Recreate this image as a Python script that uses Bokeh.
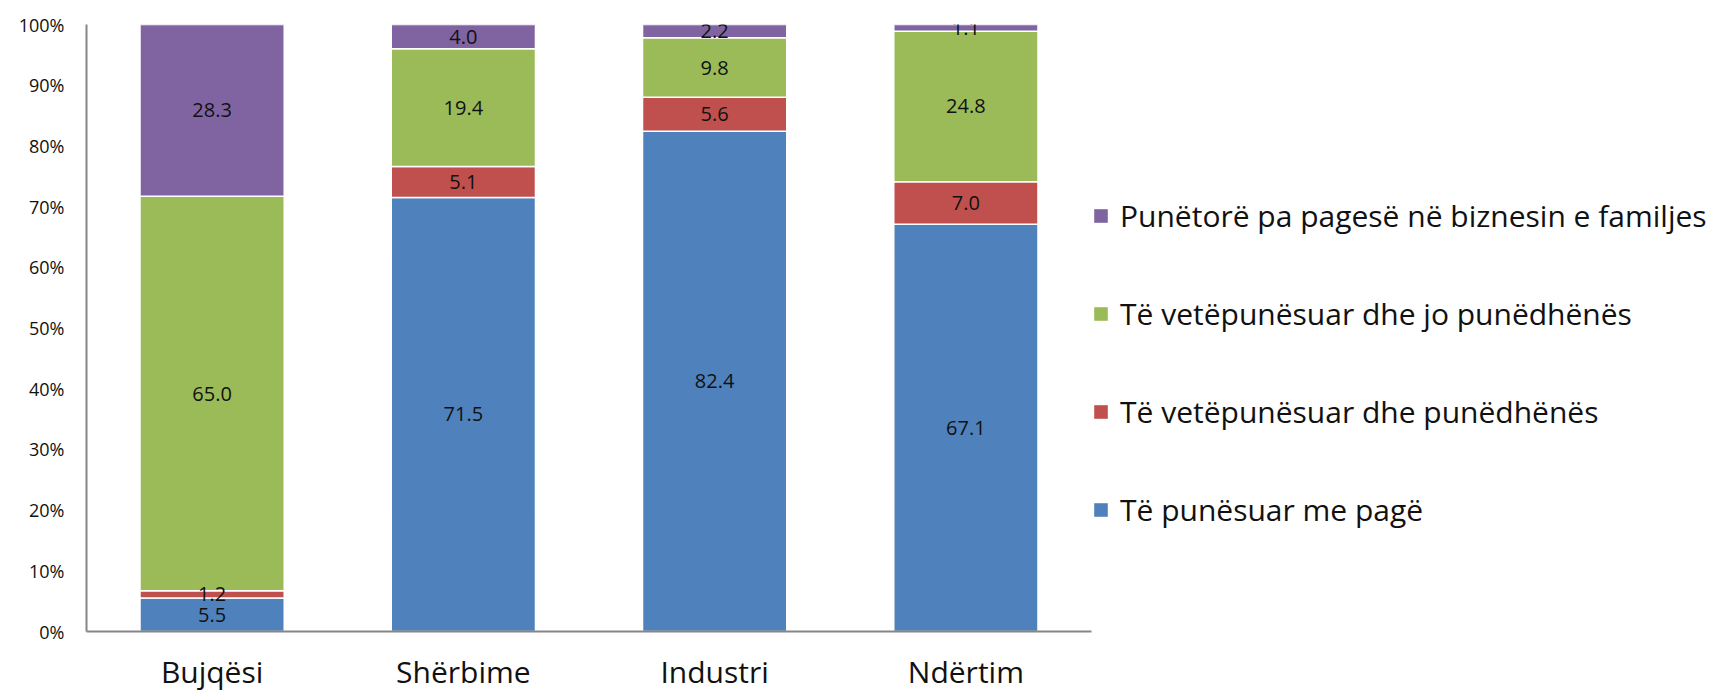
from bokeh.plotting import figure
from bokeh.models import (ColumnDataSource, Range1d, Legend, LegendItem,
                          FixedTicker, PrintfTickFormatter)
from bokeh.core.properties import value
from bokeh.embed import file_html
from bokeh.resources import INLINE

# ---- data ----
categories = ["Bujqësi", "Shërbime", "Industri", "Ndërtim"]
series_names = [
    "Të punësuar me pagë",
    "Të vetëpunësuar dhe punëdhënës",
    "Të vetëpunësuar dhe jo punëdhënës",
    "Punëtorë pa pagesë në biznesin e familjes",
]
paid_employees = [5.5, 71.5, 82.4, 67.1]
self_employed_employers = [1.2, 5.1, 5.6, 7.0]
self_employed_non_employers = [65.0, 19.4, 9.8, 24.8]
unpaid_family_workers = [28.3, 4.0, 2.2, 1.1]
y_ticks = [0, 10, 20, 30, 40, 50, 60, 70, 80, 90, 100]
colors = ["#4F81BD", "#C0504D", "#9BBB59", "#8064A2"]

series = [paid_employees, self_employed_employers, self_employed_non_employers, unpaid_family_workers]
keys = ["s0", "s1", "s2", "s3"]
x_pos = [i + 0.5 for i in range(len(categories))]

data = {"x": x_pos}
for k, s in zip(keys, series):
    data[k] = s
source = ColumnDataSource(data)

# label positions (segment mid-points) derived from the data
lx, ly, lt = [], [], []
for i in range(len(categories)):
    base = 0.0
    for s in series:
        v = s[i]
        lx.append(x_pos[i])
        ly.append(base + v / 2.0)
        lt.append(f"{v:.1f}")
        base += v
label_src = ColumnDataSource(dict(x=lx, y=ly, text=lt))

FONT = "Open Sans"

# layout
W, H = 1721, 694
LEFT, RIGHT, TOP, BOTTOM = 86, 0, 24, 62
CATS_W = 1005  # pixel width occupied by the category band
frame_w = W - LEFT - RIGHT
x_end = len(categories) * frame_w / CATS_W

p = figure(
    width=W, height=H,
    x_range=Range1d(0, x_end), y_range=Range1d(0, 100),
    output_backend="svg", toolbar_location=None,
    min_border_left=LEFT, min_border_right=RIGHT, min_border_top=TOP, min_border_bottom=BOTTOM,
)
p.outline_line_color = None
p.xgrid.visible = False
p.ygrid.visible = False
p.background_fill_color = "white"
p.border_fill_color = "white"

renderers = p.vbar_stack(keys, x="x", width=0.574, color=colors, source=source,
                         line_color="white", line_width=1.5)

# legend swatches: zero-height bars (invisible in the plot), no white outline
swatches = []
for k, c in zip(keys, colors):
    r = p.vbar(x="x", top=k, bottom=k, width=0.574, source=source,
               fill_color=c, line_color=c, line_alpha=0)
    swatches.append(r)

p.text(x="x", y="y", text="text", source=label_src, text_align="center",
       text_baseline="middle", text_font=value(FONT), text_font_size="20px",
       text_color="#111111")

# axes
p.yaxis.ticker = FixedTicker(ticks=y_ticks)
p.yaxis.formatter = PrintfTickFormatter(format="%d%%")
p.xaxis.ticker = FixedTicker(ticks=x_pos)
p.xaxis.major_label_overrides = {x: c for x, c in zip(x_pos, categories)}
p.xaxis.bounds = (0, len(categories))
for ax in (p.xaxis[0], p.yaxis[0]):
    ax.axis_line_color = "#868686"
    ax.axis_line_width = 2
    ax.major_tick_line_color = None
    ax.minor_tick_line_color = None
    ax.major_tick_out = 0
    ax.major_tick_in = 0
    ax.major_label_text_font = FONT
    ax.major_label_text_color = "#111111"
p.yaxis.major_label_text_font_size = "18px"
p.yaxis.major_label_standoff = 22
p.xaxis.major_label_text_font_size = "30px"
p.xaxis.major_label_standoff = 19

items = [LegendItem(label=series_names[i], renderers=[swatches[i]]) for i in range(3, -1, -1)]
legend = Legend(items=items, location=(1006, 101), orientation="vertical",
                glyph_width=17, glyph_height=17, label_standoff=11,
                label_text_font=FONT, label_text_font_size="30px", label_text_color="#111111",
                label_height=41, spacing=57, padding=0, margin=0,
                border_line_color=None, background_fill_alpha=0)
p.add_layout(legend)

open("out.html", "w").write(file_html(p, INLINE))
